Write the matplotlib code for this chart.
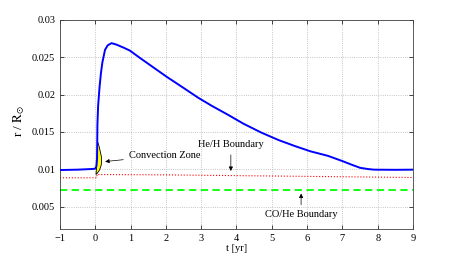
import numpy as np
import matplotlib as mpl
mpl.use('Agg')
import matplotlib.pyplot as plt

mpl.rcParams['font.family'] = 'serif'
mpl.rcParams['font.serif'] = ['Liberation Serif']
mpl.rcParams['mathtext.fontset'] = 'stix'

# outer radius of the envelope
t_env = [-1, -0.5, -0.05, 0.0, 0.03, 0.05, 0.06, 0.08, 0.12, 0.16, 0.2, 0.275, 0.35, 0.46,
         0.6, 0.8, 0.98, 1.27, 1.6, 2.02, 2.5, 2.91, 3.3, 3.76, 4.2, 4.71, 5.2,
         5.66, 6.1, 6.59, 7.0, 7.27, 7.5, 7.73, 7.9, 8.5, 9.0]
r_env = [0.0099, 0.00995, 0.01005, 0.0101, 0.0104, 0.0115, 0.016, 0.0185, 0.021, 0.0229, 0.0243,
         0.026, 0.0266, 0.0269, 0.0267, 0.0263, 0.0259, 0.0249, 0.0238, 0.0224,
         0.0209, 0.0196, 0.0185, 0.0173, 0.0161, 0.0149, 0.0139, 0.0131, 0.0124,
         0.0118, 0.0111, 0.0106, 0.0102, 0.01003, 0.00995, 0.00993, 0.00995]

# He/H boundary
t_heh = [-1, 0.04, 0.05, 2, 4, 6, 9]
r_heh = [0.00886, 0.00886, 0.0093, 0.00925, 0.00915, 0.00905, 0.0089]

# CO/He boundary
t_cohe = [-1, 9]
r_cohe = [0.0072, 0.0072]

# convection zone outline
t_conv = [0.02, 0.04, 0.05, 0.065, 0.1, 0.14, 0.18, 0.17, 0.12, 0.06, 0.02]
r_conv = [0.0093, 0.0105, 0.012, 0.0137, 0.0132, 0.0124, 0.0115, 0.0106, 0.0099, 0.0095, 0.0093]

fig = plt.figure(figsize=(4.57, 2.58), dpi=100)
ax = fig.add_axes([0.1313, 0.1124, 0.7724, 0.8101])

ax.plot(t_cohe, r_cohe, '--', color=(0, 1, 0), lw=1.3, dashes=(4, 2.5))
ax.plot(t_heh, r_heh, ':', color='red', lw=0.8)
ax.fill(t_conv, r_conv, facecolor='yellow', edgecolor='k', lw=0.6, zorder=3)
ax.plot(t_env, r_env, color='blue', lw=1.4, zorder=4)

arr = dict(arrowstyle='-|>', color='k', lw=0.5, mutation_scale=6)
ax.annotate('Convection Zone', xy=(0.2, 0.0110), xytext=(0.95, 0.01185),
            ha='left', va='center', fontsize=7.5, arrowprops=arr, zorder=5)
ax.annotate('He/H Boundary', xy=(3.84, 0.0094), xytext=(3.84, 0.01328),
            ha='center', va='center', fontsize=7.5, arrowprops=arr, zorder=5)
ax.annotate('CO/He Boundary', xy=(5.83, 0.00712), xytext=(5.83, 0.00391),
            ha='center', va='center', fontsize=7.5, arrowprops=arr, zorder=5)

ax.set_xlim(-1, 9)
ax.set_ylim(0.002, 0.03)
ax.set_xticks(range(-1, 10))
ax.set_xticklabels(['\u22121'] + [str(i) for i in range(0, 10)])
ax.set_yticks([0.005, 0.01, 0.015, 0.02, 0.025, 0.03])
ax.set_yticklabels(['0.005', '0.01', '0.015', '0.02', '0.025', '0.03'])
ax.tick_params(direction='in', labelsize=7.5, length=3, width=0.5, top=True, right=True)
ax.grid(True, ls=':', color='0.7', lw=0.6)
for s in ax.spines.values():
    s.set_linewidth(0.6)
    s.set_color('0.25')

ax.set_xlabel('t [yr]', fontsize=7.5, labelpad=1)
ax.set_ylabel(r'r / $\mathrm{R}_{\odot}$', fontsize=9.5)
ax.yaxis.set_label_coords(-0.093, 0.52)

fig.savefig('out.png', dpi=100)
